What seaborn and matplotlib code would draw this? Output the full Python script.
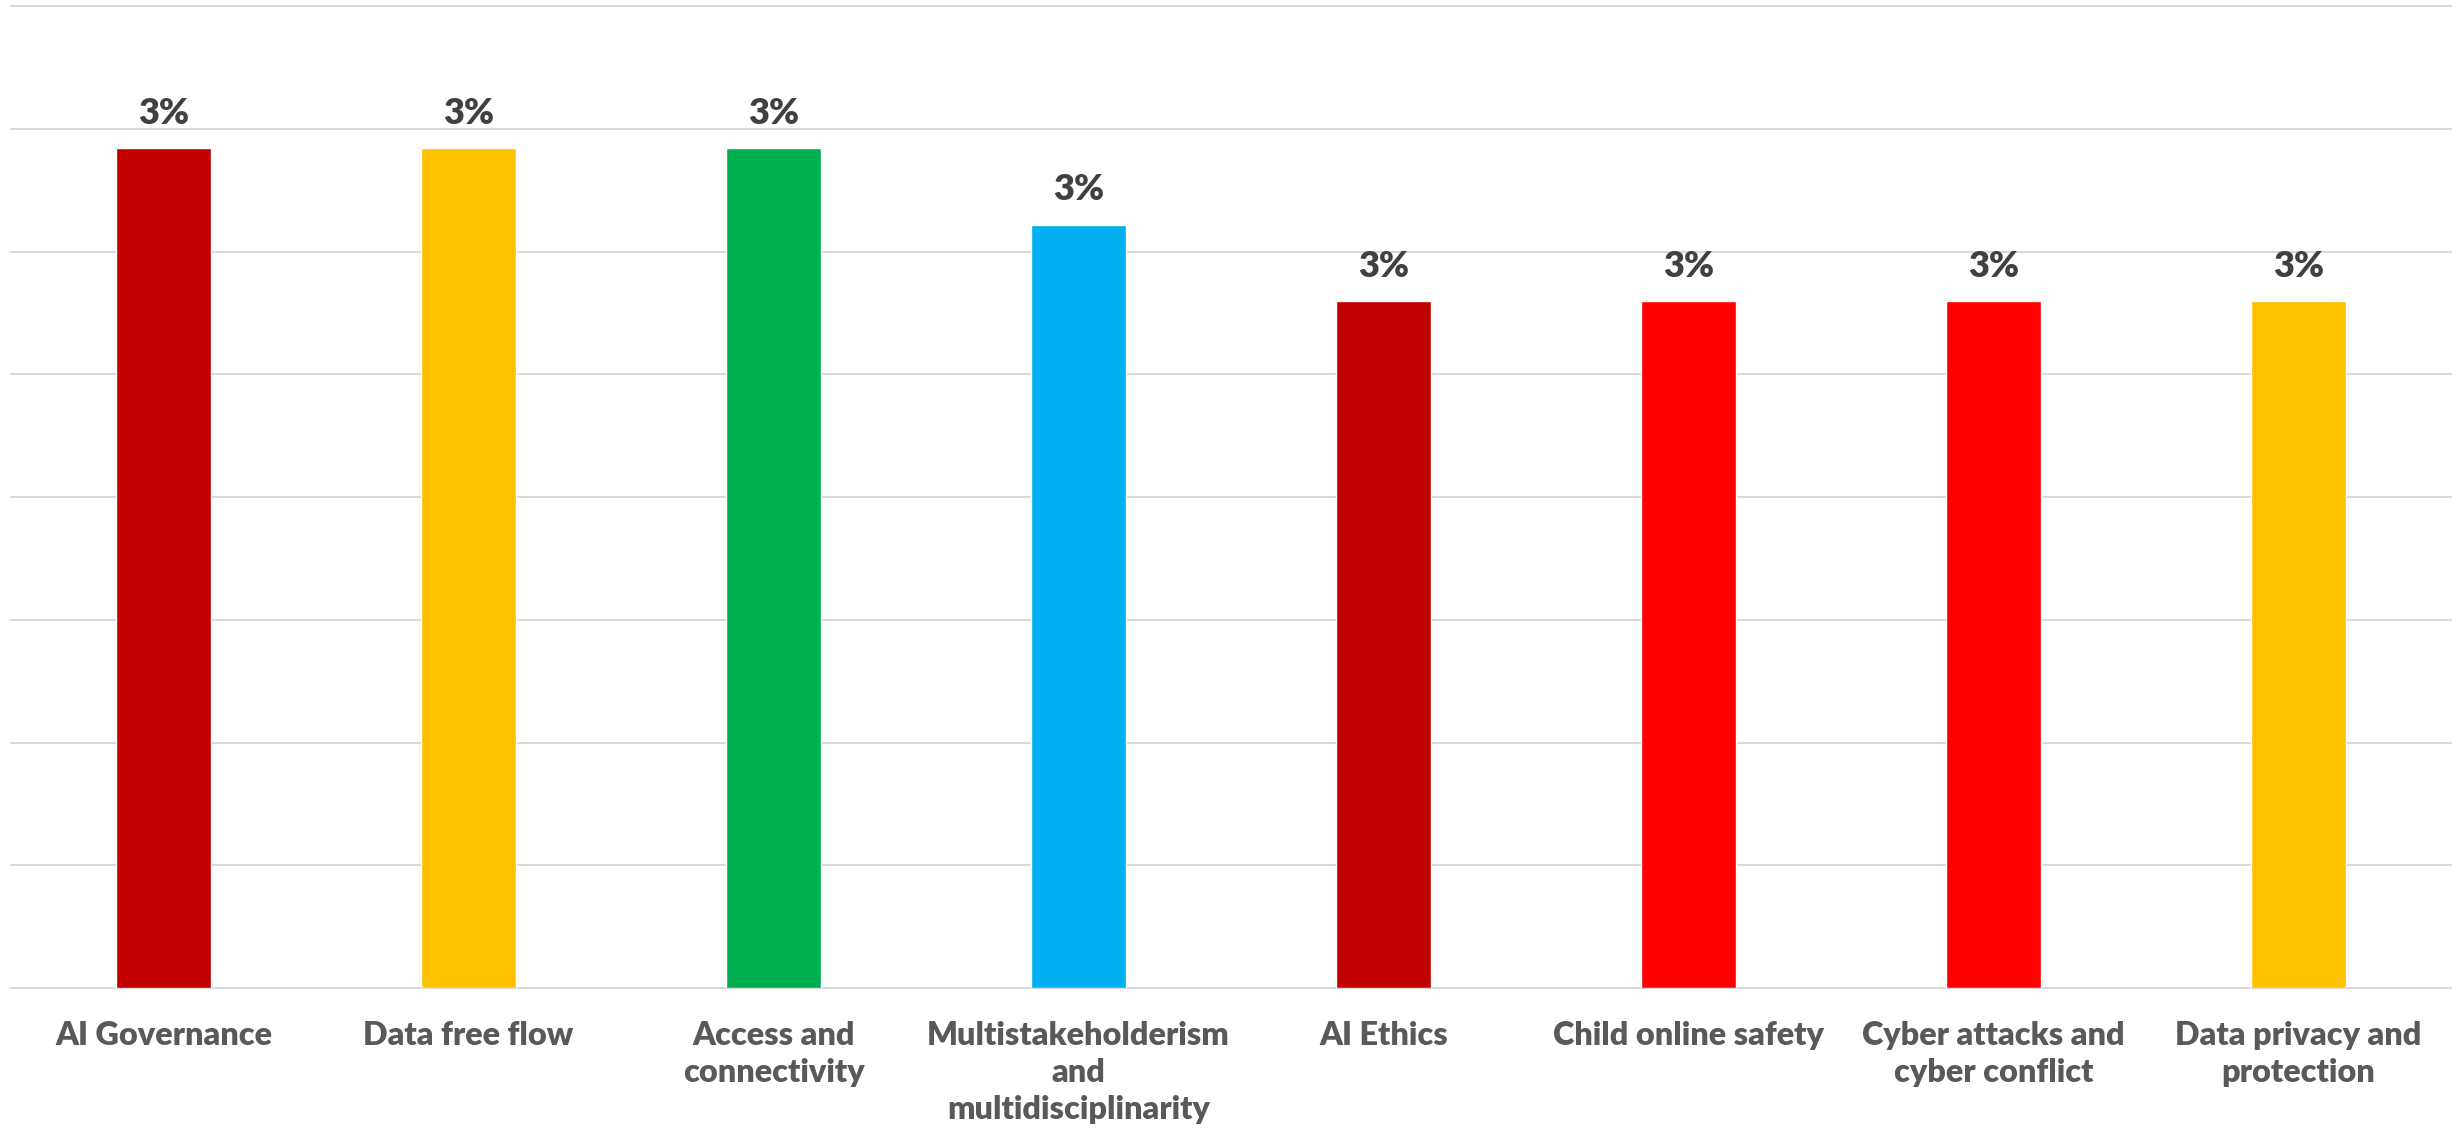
import numpy as np
import pandas as pd
import matplotlib.pyplot as plt
import seaborn as sns

# Data
topics = ["AI Governance", "Data free flow", "Access and\nconnectivity",
          "Multistakeholderism\nand\nmultidisciplinarity", "AI Ethics",
          "Child online safety", "Cyber attacks and\ncyber conflict",
          "Data privacy and\nprotection"]
shares = [0.0342, 0.0342, 0.0342, 0.0311, 0.0280, 0.0280, 0.0280, 0.0280]
labels = ["3%"] * 8
colors = ["#C00000", "#FFC000", "#00B050", "#00B0F0",
          "#C00000", "#FF0000", "#FF0000", "#FFC000"]

df = pd.DataFrame({"topic": topics, "share": shares})

sns.set_style("white")
plt.rcParams['font.family'] = ['Lato', 'DejaVu Sans']

fig = plt.figure(figsize=(24.59, 11.38), dpi=100)
ax = fig.add_axes([0.0045, 0.1318, 0.9922, 0.8629])

sns.barplot(data=df, x="topic", y="share", hue="topic", palette=colors,
            legend=False, width=0.31, saturation=1, ax=ax)

for i, (v, lab) in enumerate(zip(shares, labels)):
    ax.annotate(lab, (i, v), xytext=(0, 13), textcoords="offset points",
                ha="center", va="bottom", fontsize=26, fontweight="heavy",
                color="#404040")

ax.set_ylim(0, 0.04)
ax.set_xlim(-0.5, 7.5)
ax.set_yticks(np.arange(0, 0.0401, 0.005))
ax.yaxis.grid(True, color="#D9D9D9", linewidth=1.5)
for gl in ax.get_ygridlines():
    gl.set_clip_on(False)
ax.set_axisbelow(True)
ax.tick_params(axis="y", left=False, labelleft=False)
ax.tick_params(axis="x", bottom=False, pad=20, labelsize=23.3, labelcolor="#595959")
for t in ax.get_xticklabels():
    t.set_fontweight("heavy")
    t.set_linespacing(1.35)
ax.set_xlabel("")
ax.set_ylabel("")
sns.despine(ax=ax, left=True, top=True, right=True, bottom=True)

fig.savefig("out.png", dpi=100)
